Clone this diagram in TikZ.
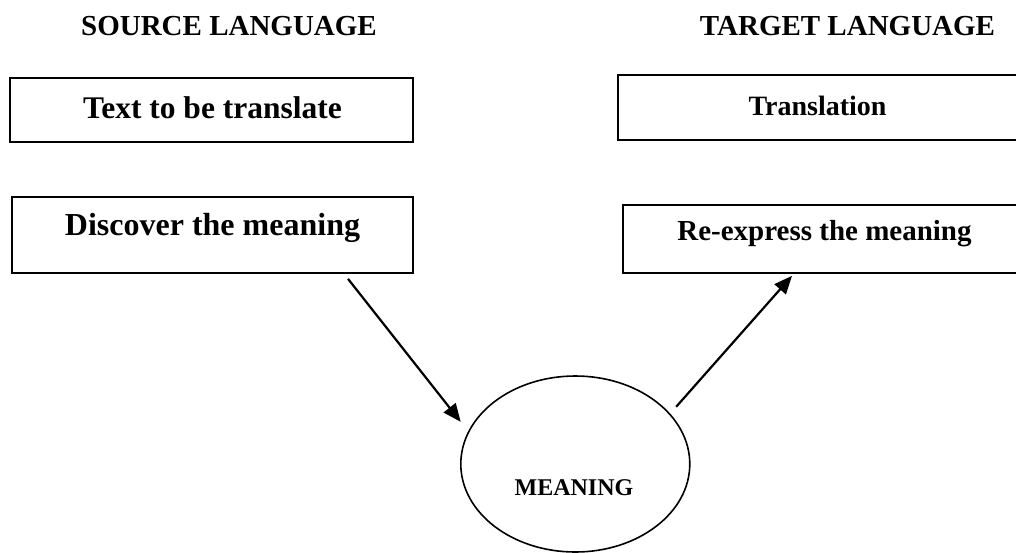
\documentclass[tikz,border=0pt]{standalone}
\usepackage{fontspec}
\setmainfont{Liberation Serif}
\usepackage{tikz}
\usetikzlibrary{shapes.geometric, arrows.meta, positioning}

\begin{document}
\begin{tikzpicture}[
    x=1pt, y=-1pt,
    box/.style={rectangle, draw, line width=1.7pt, inner sep=0pt},
    bubble/.style={ellipse, draw, line width=1.6pt, inner sep=0pt, minimum width=229pt, minimum height=176pt},
    boxtext/.style={anchor=base, inner sep=0pt, font=\bfseries\fontsize{#1}{#1}\selectfont},
    arrow/.style={-{Triangle[length=18pt,width=15pt]}, line width=2.2pt}
]
\useasboundingbox (0,0) rectangle (1016,552);
\clip (0,0) rectangle (1016,552);

% column headers
\node[boxtext=29] (srchead) at (229,35) {SOURCE LANGUAGE};
\node[boxtext=29] (tgthead) at (847.5,35) {TARGET LANGUAGE};

% boxes
\node[box, minimum width=403pt, minimum height=64pt] (source) at (211.5,110) {};
\node[box, minimum width=401pt, minimum height=76pt] (discover) at (212.5,235) {};
\node[box, minimum width=412pt, minimum height=65pt] (translation) at (824,107.5) {};
\node[box, minimum width=407pt, minimum height=68pt] (reexpress) at (826.5,239) {};
\node[bubble] (meaning) at (575.3,464) {};

% texts
\node[boxtext=31.5] (sourcetext) at (212.5,118) {Text to be translate};
\node[boxtext=32] (discovertext) at (212.5,235) {Discover the meaning};
\node[boxtext=28] (translationtext) at (817.5,115) {Translation};
\node[boxtext=29] (reexpresstext) at (824.5,240) {Re-express the meaning};
\node[boxtext=24] (meaningtext) at (574,495) {MEANING};

\draw[arrow, shorten >=12pt] ([xshift=135.5pt,yshift=-5pt]discover.south) -- (meaning.163);
\draw[arrow, shorten <=9pt] (meaning.28) -- ([xshift=-34.5pt,yshift=-2pt]reexpress.south);
\end{tikzpicture}
\end{document}
